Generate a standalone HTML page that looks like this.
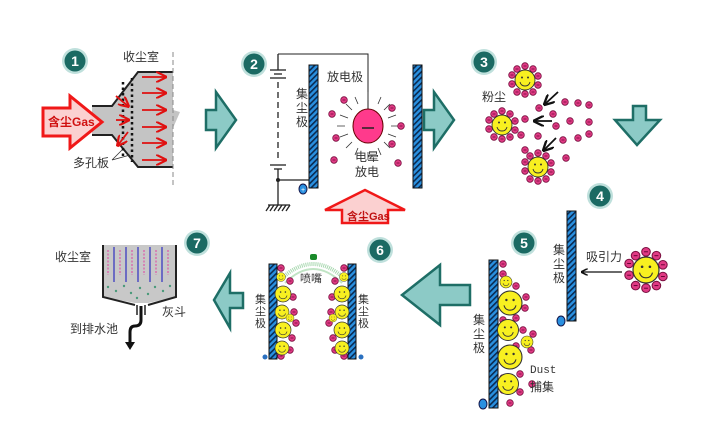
<!DOCTYPE html>
<html><head><meta charset="utf-8"><style>
html,body{margin:0;padding:0;background:#fff}
svg{display:block}
text{font-family:"Liberation Sans","Noto Sans CJK SC",sans-serif;font-size:12px;fill:#333}
</style></head><body>
<svg width="708" height="448" viewBox="0 0 708 448" xmlns="http://www.w3.org/2000/svg">
<defs>
<pattern id="hatch" width="4" height="4" patternUnits="userSpaceOnUse" patternTransform="rotate(45)">
<rect width="4" height="4" fill="#2a90e0"/><rect width="1.6" height="4" fill="#0a2a50"/>
</pattern>
<g id="dot"><circle r="3.3" fill="#e03a84" stroke="#7a1040" stroke-width="0.8"/><line x1="-1.5" x2="1.5" y1="0" y2="0" stroke="#600030" stroke-width="0.7"/></g>
<g id="face"><circle r="10" fill="#f8f020" stroke="#333" stroke-width="0.9"/><circle cx="-3" cy="-2.5" r="1" fill="#333"/><circle cx="3" cy="-2.5" r="1" fill="#333"/><path d="M-5 2 Q-4 6 0 6 Q4 6 5 2" fill="none" stroke="#333" stroke-width="0.9"/></g>
<g id="flower">
<use href="#dot" x="0" y="-14"/><use href="#dot" x="8" y="-11"/><use href="#dot" x="13" y="-4"/><use href="#dot" x="13" y="5"/><use href="#dot" x="8" y="12"/><use href="#dot" x="0" y="14"/><use href="#dot" x="-8" y="12"/><use href="#dot" x="-13" y="4"/><use href="#dot" x="-13" y="-5"/><use href="#dot" x="-8" y="-11"/>
<use href="#face"/></g>
<g id="chev"><path d="M0 -10 L10 -10 L10 -28 L30 0 L10 28 L10 10 L0 10 Z" fill="#8ccac6" stroke="#1e6e66" stroke-width="2.5"/></g>
<g id="badge"><circle r="13" fill="#bfe0dc"/><circle r="10.5" fill="#1b6a63"/></g>
<marker id="ra" markerWidth="6" markerHeight="6" refX="5" refY="3" orient="auto"><path d="M0 0 L6 3 L0 6" fill="none" stroke="#e01010" stroke-width="1.2"/></marker>
<marker id="ka" markerWidth="6" markerHeight="6" refX="5" refY="3" orient="auto"><path d="M0 0 L6 3 L0 6" fill="none" stroke="#111" stroke-width="1.3"/></marker>
</defs>

<!-- badges -->
<g font-weight="bold">
<use href="#badge" x="75" y="61"/><text x="75" y="66" text-anchor="middle" style="fill:#fff;font-size:14px;font-weight:bold">1</text>
<use href="#badge" x="254" y="64"/><text x="254" y="69" text-anchor="middle" style="fill:#fff;font-size:14px;font-weight:bold">2</text>
<use href="#badge" x="484" y="62"/><text x="484" y="67" text-anchor="middle" style="fill:#fff;font-size:14px;font-weight:bold">3</text>
<use href="#badge" x="600" y="196"/><text x="600" y="201" text-anchor="middle" style="fill:#fff;font-size:14px;font-weight:bold">4</text>
<use href="#badge" x="524" y="243"/><text x="524" y="248" text-anchor="middle" style="fill:#fff;font-size:14px;font-weight:bold">5</text>
<use href="#badge" x="380" y="250"/><text x="380" y="255" text-anchor="middle" style="fill:#fff;font-size:14px;font-weight:bold">6</text>
<use href="#badge" x="197" y="243"/><text x="197" y="248" text-anchor="middle" style="fill:#fff;font-size:14px;font-weight:bold">7</text>
</g>

<!-- panel 1 -->
<path d="M92 106 L112 106 L138 72 L173 72 L173 110 L180 112 L173 128 L173 167 L138 167 L112 135 L92 135 Z" fill="#c4c4c4"/>
<path d="M92 106 L112 106 L138 72 L173 72 M92 135 L112 135 L138 167 L173 167" fill="none" stroke="#222" stroke-width="2"/>
<line x1="173" y1="52" x2="173" y2="186" stroke="#888" stroke-dasharray="5,3"/>
<line x1="123" y1="82" x2="123" y2="157" stroke="#111" stroke-width="2.5" stroke-dasharray="2.5,3"/>
<line x1="132" y1="78" x2="132" y2="162" stroke="#111" stroke-width="2.5" stroke-dasharray="2.5,3"/>
<g stroke="#e01010" stroke-width="1.8" marker-end="url(#ra)">
<line x1="142" y1="77" x2="165" y2="77"/><line x1="142" y1="93" x2="165" y2="93"/><line x1="142" y1="110" x2="165" y2="110"/><line x1="142" y1="127" x2="165" y2="127"/><line x1="142" y1="143" x2="165" y2="143"/><line x1="142" y1="160" x2="165" y2="160"/>
<line x1="116" y1="120" x2="128" y2="120"/><line x1="116" y1="96" x2="128" y2="106"/><line x1="128" y1="132" x2="118" y2="145"/>
</g>
<path d="M43 108 L70 108 L70 96 L102 122 L70 148 L70 136 L43 136 Z" fill="#fbd0d0" stroke="#f01818" stroke-width="3"/>
<text x="48" y="126" style="fill:#d01010;font-size:12px;font-weight:bold">含尘Gas</text>
<text x="123" y="61">收尘室</text>
<text x="73" y="167">多孔板</text>
<path d="M112 160 L122 150 M112 160 L130 155" stroke="#333" fill="none" stroke-width="0.8"/>

<use href="#chev" x="206" y="120"/>

<!-- panel 2 -->
<path d="M278 54 L368 54 L368 112" fill="none" stroke="#222"/>
<g stroke="#222" stroke-width="1.3">
<line x1="278" y1="54" x2="278" y2="70"/><line x1="270" y1="70" x2="286" y2="70"/><line x1="274" y1="74" x2="282" y2="74"/><line x1="270" y1="78" x2="286" y2="78"/>
<line x1="278" y1="82" x2="278" y2="162" stroke-dasharray="6,4"/>
<line x1="270" y1="165" x2="286" y2="165"/><line x1="274" y1="169" x2="282" y2="169"/>
<line x1="278" y1="169" x2="278" y2="205"/><line x1="278" y1="180" x2="310" y2="180"/>
<line x1="268" y1="205" x2="290" y2="205"/>
<path d="M270 205 l-4 6 M274 205 l-4 6 M278 205 l-4 6 M282 205 l-4 6 M286 205 l-4 6 M290 205 l-4 6"/>
</g>
<circle cx="278" cy="180" r="2" fill="#222"/>
<rect x="309" y="65" width="9" height="123" fill="url(#hatch)" stroke="#111"/>
<rect x="413" y="65" width="9" height="123" fill="url(#hatch)" stroke="#111"/>
<ellipse cx="303" cy="189" rx="4" ry="5" fill="#2a90e0" stroke="#114"/><text x="301" y="192" style="font-size:7px;fill:#fff">+</text>
<g stroke="#333" stroke-width="0.8">
<path d="M368 100 V92 M368 152 V160 M345 126 H337 M391 126 H399 M352 110 l-6 -6 M384 110 l6 -6 M352 142 l-6 6 M384 142 l6 6 M358 104 l-3 -7 M378 104 l3 -7 M358 148 l-3 7 M378 148 l3 7 M348 118 l-8 -3 M388 118 l8 -3 M348 134 l-8 3 M388 134 l8 3"/>
</g>
<ellipse cx="368" cy="126" rx="15" ry="17" fill="#ff3a8c" stroke="#600"/>
<line x1="362" y1="128" x2="374" y2="128" stroke="#222" stroke-width="1.5"/>
<use href="#dot" x="344" y="100"/><use href="#dot" x="332" y="114"/><use href="#dot" x="336" y="138"/><use href="#dot" x="334" y="160"/><use href="#dot" x="392" y="108"/><use href="#dot" x="401" y="126"/><use href="#dot" x="392" y="144"/><use href="#dot" x="398" y="163"/>
<text x="296" y="98" style="font-size:12px">集</text><text x="296" y="112">尘</text><text x="296" y="126">极</text>
<text x="327" y="81">放电极</text>
<text x="355" y="161">电晕</text><text x="355" y="176">放电</text>
<path d="M325 210 L365 190 L405 210 L388 210 L388 223 L342 223 L342 210 Z" fill="#fbd0d0" stroke="#f01818" stroke-width="2.5"/>
<text x="347" y="220" style="fill:#c01010;font-size:11px;font-weight:bold">含尘Gas</text>

<use href="#chev" x="424" y="120"/>

<!-- panel 3 -->
<use href="#flower" x="525" y="80"/><use href="#flower" x="502" y="125"/><use href="#flower" x="538" y="167"/>
<text x="482" y="101">粉尘</text>
<g>
<use href="#dot" x="539" y="108"/><use href="#dot" x="565" y="102"/><use href="#dot" x="578" y="103"/><use href="#dot" x="589" y="105"/><use href="#dot" x="553" y="114"/><use href="#dot" x="525" y="119"/><use href="#dot" x="570" y="121"/><use href="#dot" x="589" y="122"/><use href="#dot" x="556" y="126"/><use href="#dot" x="521" y="135"/><use href="#dot" x="538" y="136"/><use href="#dot" x="563" y="140"/><use href="#dot" x="578" y="138"/><use href="#dot" x="589" y="134"/><use href="#dot" x="525" y="150"/><use href="#dot" x="566" y="158"/>
</g>
<g stroke="#111" stroke-width="1.8" marker-end="url(#ka)">
<line x1="558" y1="92" x2="545" y2="104"/><line x1="552" y1="121" x2="535" y2="121"/><line x1="556" y1="138" x2="544" y2="150"/>
</g>
<path d="M615 120 L633 120 L633 106 L646 106 L646 120 L660 120 L637 145 Z" fill="#8ccac6" stroke="#1e6e66" stroke-width="2.5"/>

<!-- panel 4 -->
<rect x="567" y="211" width="9" height="110" fill="url(#hatch)" stroke="#111"/>
<ellipse cx="561" cy="321" rx="4" ry="5" fill="#2a90e0" stroke="#114"/>
<text x="553" y="254">集</text><text x="553" y="268">尘</text><text x="553" y="282">极</text>
<text x="586" y="261">吸引力</text>
<line x1="622" y1="272" x2="582" y2="272" stroke="#111" stroke-width="1.2" marker-end="url(#ka)"/>
<use href="#flower" transform="translate(646 270) scale(1.3)"/>

<!-- panel 5 -->
<rect x="489" y="260" width="9" height="148" fill="url(#hatch)" stroke="#111"/>
<ellipse cx="483" cy="404" rx="4" ry="5" fill="#2a90e0" stroke="#114"/>
<text x="473" y="324">集</text><text x="473" y="338">尘</text><text x="473" y="352">极</text>
<g>
<use href="#dot" x="503" y="264"/><use href="#dot" x="503" y="274"/><use href="#dot" x="516" y="286"/><use href="#dot" x="526" y="297"/><use href="#dot" x="525" y="308"/><use href="#dot" x="516" y="318"/><use href="#dot" x="503" y="320"/><use href="#dot" x="523" y="330"/><use href="#dot" x="533" y="334"/><use href="#dot" x="531" y="350"/><use href="#dot" x="516" y="346"/><use href="#dot" x="503" y="362"/><use href="#dot" x="503" y="378"/><use href="#dot" x="520" y="374"/><use href="#dot" x="503" y="390"/><use href="#dot" x="510" y="403"/><use href="#dot" x="520" y="392"/><use href="#dot" x="532" y="384"/>
</g>
<use href="#face" transform="translate(506 282) scale(0.6)"/>
<use href="#face" transform="translate(510 303) scale(1.2)"/>
<use href="#face" transform="translate(508 330) scale(1.05)"/>
<use href="#face" transform="translate(527 342) scale(0.6)"/>
<use href="#face" transform="translate(510 357) scale(1.2)"/>
<use href="#face" transform="translate(508 384) scale(1.05)"/>
<text x="530" y="373" style="font-family:'Liberation Mono',monospace;font-size:11px">Dust</text>
<text x="530" y="391">捕集</text>

<path d="M470 285 L440 285 L440 265 L402 295 L440 325 L440 305 L470 305 Z" fill="#8ccac6" stroke="#1e6e66" stroke-width="2.5"/>

<!-- panel 6 -->
<path d="M280 280 Q313 248 346 280" fill="none" stroke="#a8d8b0" stroke-width="4" stroke-dasharray="1,1"/>
<path d="M285 283 Q313 255 342 283" fill="none" stroke="#c0e4c4" stroke-width="2"/>
<rect x="310" y="254" width="7" height="6" rx="2" fill="#1a8a2a"/>
<text x="300" y="282" style="font-size:11px">喷嘴</text>
<rect x="269" y="264" width="8" height="95" fill="url(#hatch)" stroke="#111"/>
<rect x="348" y="264" width="8" height="95" fill="url(#hatch)" stroke="#111"/>
<circle cx="265" cy="357" r="2.5" fill="#2a70c0"/><circle cx="361" cy="357" r="2.5" fill="#2a70c0"/>
<text x="255" y="303" style="font-size:11px">集</text><text x="255" y="315" style="font-size:11px">尘</text><text x="255" y="327" style="font-size:11px">极</text>
<text x="358" y="303" style="font-size:11px">集</text><text x="358" y="315" style="font-size:11px">尘</text><text x="358" y="327" style="font-size:11px">极</text>
<g>
<use href="#dot" x="281" y="268"/><use href="#dot" x="290" y="281"/><use href="#dot" x="293" y="297"/><use href="#dot" x="294" y="312"/><use href="#dot" x="296" y="323"/><use href="#dot" x="292" y="338"/><use href="#dot" x="290" y="350"/><use href="#dot" x="281" y="356"/><use href="#dot" x="283" y="327"/>
<use href="#dot" x="344" y="268"/><use href="#dot" x="335" y="281"/><use href="#dot" x="332" y="297"/><use href="#dot" x="331" y="312"/><use href="#dot" x="329" y="323"/><use href="#dot" x="333" y="338"/><use href="#dot" x="335" y="350"/><use href="#dot" x="344" y="356"/><use href="#dot" x="342" y="327"/>
</g>
<use href="#face" transform="translate(281 277) scale(0.45)"/>
<use href="#face" transform="translate(283 294) scale(0.8)"/>
<use href="#face" transform="translate(282 312) scale(0.7)"/>
<use href="#face" transform="translate(290 318) scale(0.4)"/>
<use href="#face" transform="translate(283 330) scale(0.8)"/>
<use href="#face" transform="translate(282 348) scale(0.7)"/>
<use href="#face" transform="translate(344 277) scale(0.45)"/>
<use href="#face" transform="translate(342 294) scale(0.8)"/>
<use href="#face" transform="translate(342 312) scale(0.7)"/>
<use href="#face" transform="translate(333 318) scale(0.4)"/>
<use href="#face" transform="translate(342 330) scale(0.8)"/>
<use href="#face" transform="translate(342 348) scale(0.7)"/>

<path d="M243 293 L230 293 L230 273 L214 300 L230 328 L230 308 L243 308 Z" fill="#8ccac6" stroke="#1e6e66" stroke-width="2.5"/>

<!-- panel 7 -->
<path d="M103 245 L176 245 L176 297 L148 303 L135 303 L103 297 Z" fill="#c8c8c8"/>
<path d="M103 245 L103 297 L135 305 M176 245 L176 297 L148 305" fill="none" stroke="#222" stroke-width="2"/>
<g stroke="#3030c0" stroke-width="1.2">
<line x1="114" y1="247" x2="114" y2="282"/><line x1="126" y1="247" x2="126" y2="282"/><line x1="138" y1="247" x2="138" y2="282"/><line x1="150" y1="247" x2="150" y2="282"/><line x1="162" y1="247" x2="162" y2="282"/>
</g>
<g stroke="#e040a0" stroke-width="1" stroke-dasharray="2,1.5">
<line x1="108" y1="250" x2="108" y2="275"/><line x1="120" y1="250" x2="120" y2="275"/><line x1="132" y1="250" x2="132" y2="275"/><line x1="144" y1="250" x2="144" y2="275"/><line x1="156" y1="250" x2="156" y2="275"/><line x1="168" y1="250" x2="168" y2="275"/>
</g>
<g fill="#4a9a7a"><circle cx="108" cy="287" r="1.2"/><circle cx="116" cy="291" r="1.2"/><circle cx="124" cy="286" r="1.2"/><circle cx="131" cy="293" r="1.2"/><circle cx="140" cy="288" r="1.2"/><circle cx="148" cy="294" r="1.2"/><circle cx="155" cy="287" r="1.2"/><circle cx="163" cy="291" r="1.2"/><circle cx="170" cy="286" r="1.2"/><circle cx="137" cy="298" r="1.2"/></g>
<path d="M137 305 V315 M145 305 V315" stroke="#222" stroke-width="1.5"/>
<path d="M141 306 V320 Q141 326 135 326 Q130 326 130 332 V345" fill="none" stroke="#111" stroke-width="3"/>
<path d="M125 342 L135 342 L130 350 Z" fill="#111"/>
<text x="55" y="261">收尘室</text>
<text x="162" y="316">灰斗</text>
<text x="70" y="333">到排水池</text>
</svg>
</body></html>
